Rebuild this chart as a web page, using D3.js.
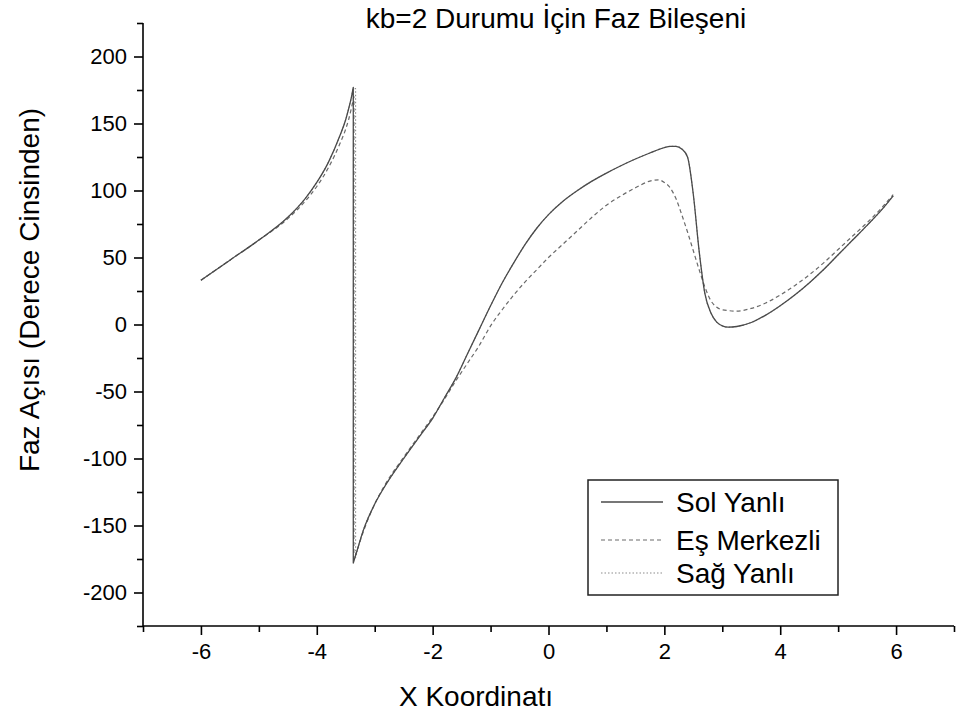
<!DOCTYPE html>
<html>
<head>
<meta charset="utf-8">
<script src="https://cdn.jsdelivr.net/npm/d3@7"></script>
<style>
  html, body { margin: 0; padding: 0; background: #fff; }
  svg { display: block; font-family: "Liberation Sans", Arial, sans-serif; }
</style>
</head>
<body>
<svg id="chart" width="956" height="722"></svg>
<script>
// Phase component (degrees) along the X coordinate, three cases
const solX = [-6, -5.5, -5, -4.5, -4.2, -4, -3.8, -3.6, -3.5, -3.45, -3.4, -3.37, -3.37, -3.3, -3.2, -3.0, -2.8, -2.5, -2.2, -2.0, -1.8, -1.6, -1.4, -1.2, -1.0, -0.8, -0.6, -0.4, -0.2, 0, 0.25, 0.5, 0.75, 1.0, 1.25, 1.5, 1.75, 2.0, 2.1, 2.2, 2.3, 2.4, 2.5, 2.6, 2.7, 2.8, 2.9, 3.0, 3.1, 3.25, 3.5, 3.75, 4.0, 4.25, 4.5, 4.75, 5.0, 5.25, 5.5, 5.75, 5.95];
const solY = [33, 48, 63, 80, 94, 106, 121, 141, 153, 161, 170, 177, -178, -168, -154, -134, -119, -100, -82, -70, -55, -40, -22, -4, 14, 31, 46, 60, 72, 82, 92, 100, 107, 113, 118.5, 123.5, 128, 132, 133, 133, 131, 125, 97, 55, 23, 9, 2, -1, -2, -1.5, 1.5, 7, 14, 22, 31, 41, 52, 63, 74, 85.5, 96];

const esX = [-6, -5.5, -5, -4.5, -4.2, -4, -3.8, -3.6, -3.5, -3.45, -3.4, -3.36, -3.36, -3.3, -3.2, -3.0, -2.8, -2.5, -2.2, -2.0, -1.8, -1.6, -1.4, -1.2, -1.0, -0.8, -0.6, -0.4, -0.2, 0, 0.25, 0.5, 0.75, 1.0, 1.25, 1.5, 1.75, 1.9, 2.0, 2.1, 2.2, 2.3, 2.4, 2.5, 2.6, 2.7, 2.8, 2.9, 3.0, 3.25, 3.5, 3.75, 4.0, 4.25, 4.5, 4.75, 5.0, 5.25, 5.5, 5.75, 5.95];
const esY = [33, 48, 63, 79, 92, 103, 117, 135, 146, 153, 162, 170, -175, -168, -155, -134, -118, -99, -81, -69, -56, -42, -29, -16, -1, 11, 22, 32, 41, 50, 60, 70, 80, 89, 96, 102, 107, 108, 106, 102, 94, 82, 69, 55, 41, 28, 18, 13, 11, 10, 12, 16, 22, 29, 37, 46, 56, 66, 76, 87, 97];

const sagX = [-6, -5.5, -5, -4.5, -4.2, -4, -3.8, -3.6, -3.5, -3.45, -3.4, -3.37, -3.33, -3.33, -3.3, -3.2, -3.0, -2.8, -2.5, -2.2, -2.0, -1.8, -1.6, -1.4, -1.2, -1.0, -0.8, -0.6, -0.4, -0.2, 0, 0.25, 0.5, 0.75, 1.0, 1.25, 1.5, 1.75, 2.0, 2.1, 2.2, 2.3, 2.4, 2.5, 2.6, 2.7, 2.8, 2.9, 3.0, 3.1, 3.25, 3.5, 3.75, 4.0, 4.25, 4.5, 4.75, 5.0, 5.25, 5.5, 5.75, 5.95];
const sagY = [33, 48, 63, 80, 94, 106, 121, 141, 153, 161, 170, 176, 176, -174, -169, -154, -134, -119, -100, -82, -70, -55, -40, -22, -4, 14, 31, 46, 60, 72, 82, 92, 100, 107, 113, 118.5, 123.5, 128, 132, 133, 133, 131, 125, 97, 55, 23, 9, 2, -1, -2, -1.5, 1.5, 7, 14, 22, 31, 41, 52, 63, 74, 85.5, 96];

const seriesNames = ["Sol Yanlı", "Eş Merkezli", "Sağ Yanlı"];
const xMajorTicks = [-6, -4, -2, 0, 2, 4, 6];
const xMinorTicks = [-7, -5, -3, -1, 1, 3, 5, 7];
const yMajorTicks = [-200, -150, -100, -50, 0, 50, 100, 150, 200];
const yMinorTicks = [-225, -175, -125, -75, -25, 25, 75, 125, 175, 225];

const titleText = "kb=2 Durumu İçin Faz Bileşeni";
const xTitle = "X Koordinatı";
const yTitle = "Faz Açısı (Derece Cinsinden)";

const svg = d3.select("#chart");
const plot = { left: 143, right: 954, top: 23, bottom: 626 };

const x = d3.scaleLinear().domain([-7, 7]).range([plot.left, plot.right]);
const y = d3.scaleLinear().domain([-225, 225]).range([plot.bottom, plot.top]);

// Title
svg.append("text")
  .attr("x", 556).attr("y", 28)
  .attr("text-anchor", "middle")
  .attr("font-size", 28)
  .attr("fill", "#000")
  .text(titleText);

// Curves: split at the phase jump, smooth each piece, join with a vertical step
const lineGen = d3.line().x(d => x(d[0])).y(d => y(d[1])).curve(d3.curveMonotoneX);
function pathFor(xs, ys) {
  const pts = xs.map((v, i) => [v, ys[i]]);
  const pieces = [];
  let cur = [pts[0]];
  for (let i = 1; i < pts.length; i++) {
    if (pts[i][0] === pts[i - 1][0]) { pieces.push(cur); cur = [pts[i]]; }
    else cur.push(pts[i]);
  }
  pieces.push(cur);
  return pieces.map((p, i) => {
    const d = lineGen(p);
    return i === 0 ? d : "L" + d.slice(1);
  }).join("");
}

const styles = [
  { stroke: "#4a4a4a", width: 1.3, dash: null },
  { stroke: "#6a6a6a", width: 1.2, dash: "4,3" },
  { stroke: "#8c8c8c", width: 1.1, dash: "1.5,2" }
];
const data = [[solX, solY], [esX, esY], [sagX, sagY]];

const curves = svg.append("g");
// Draw the dotted series first so the others sit over it
[2, 1, 0].forEach(k => {
  curves.append("path")
    .attr("d", pathFor(data[k][0], data[k][1]))
    .attr("fill", "none")
    .attr("stroke", styles[k].stroke)
    .attr("stroke-width", styles[k].width)
    .attr("stroke-dasharray", styles[k].dash)
    .attr("stroke-linejoin", "round");
});

// Axes (plain hyphen for negative labels)
const fmt = d => String(d);
const xAxis = d3.axisBottom(x).tickValues(xMajorTicks).tickSize(9).tickPadding(8).tickFormat(fmt);
const gx = svg.append("g").attr("transform", `translate(0,${plot.bottom})`).call(xAxis);
gx.select(".domain").attr("d", `M${plot.left},0H${plot.right}`).attr("stroke-width", 1.6);
gx.selectAll(".tick line").attr("stroke-width", 1.6);
gx.selectAll(".tick text").attr("font-size", 22).attr("font-family", "Liberation Sans, Arial, sans-serif").attr("fill", "#000");
svg.append("g").attr("transform", `translate(0,${plot.bottom})`)
  .call(d3.axisBottom(x).tickValues(xMinorTicks).tickSize(6).tickFormat(""))
  .call(g => g.select(".domain").remove())
  .selectAll(".tick line").attr("stroke-width", 1.6);

const yAxis = d3.axisLeft(y).tickValues(yMajorTicks).tickSize(9).tickPadding(7).tickFormat(fmt);
const gy = svg.append("g").attr("transform", `translate(${plot.left},0)`).call(yAxis);
gy.select(".domain").attr("d", `M0,${plot.top}V${plot.bottom}`).attr("stroke-width", 1.6);
gy.selectAll(".tick line").attr("stroke-width", 1.6);
gy.selectAll(".tick text").attr("font-size", 22).attr("font-family", "Liberation Sans, Arial, sans-serif").attr("fill", "#000");
svg.append("g").attr("transform", `translate(${plot.left},0)`)
  .call(d3.axisLeft(y).tickValues(yMinorTicks).tickSize(6).tickFormat(""))
  .call(g => g.select(".domain").remove())
  .selectAll(".tick line").attr("stroke-width", 1.6);

// Axis titles
svg.append("text")
  .attr("x", 476).attr("y", 706)
  .attr("text-anchor", "middle")
  .attr("font-size", 28)
  .attr("fill", "#000")
  .text(xTitle);
svg.append("text")
  .attr("transform", "translate(39,290) rotate(-90)")
  .attr("text-anchor", "middle")
  .attr("font-size", 28)
  .attr("fill", "#000")
  .text(yTitle);

// Legend
const legend = svg.append("g");
legend.append("rect")
  .attr("x", 588).attr("y", 480).attr("width", 250).attr("height", 115)
  .attr("fill", "#fff").attr("stroke", "#222").attr("stroke-width", 1.5);
const rowY = [502, 540, 573];
seriesNames.forEach((name, k) => {
  legend.append("line")
    .attr("x1", 601).attr("x2", 663).attr("y1", rowY[k]).attr("y2", rowY[k])
    .attr("stroke", styles[k].stroke)
    .attr("stroke-width", styles[k].width)
    .attr("stroke-dasharray", styles[k].dash);
  legend.append("text")
    .attr("x", 676).attr("y", rowY[k] + 10)
    .attr("font-size", 28)
    .attr("fill", "#000")
    .text(name);
});
</script>
</body>
</html>
